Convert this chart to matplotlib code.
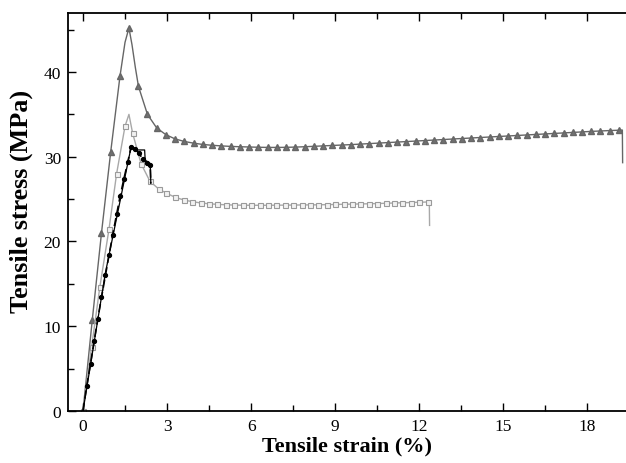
import matplotlib
matplotlib.use("Agg")
import matplotlib.pyplot as plt
from matplotlib.ticker import MultipleLocator

plt.rcParams['font.family'] = ['Liberation Serif', 'DejaVu Serif']

# Series A: triangles (highest curve)
a_x = [0, 0.33, 0.66, 0.99, 1.32, 1.50, 1.64, 1.75, 1.87, 1.98, 2.30, 2.63, 2.96, 3.29, 3.62, 3.95,
       4.28, 4.61, 4.94, 5.27, 5.60, 5.93, 6.26, 6.59, 6.92, 7.25, 7.58, 7.91, 8.24, 8.57, 8.90,
       9.23, 9.56, 9.89, 10.22, 10.55, 10.88, 11.21, 11.54, 11.87, 12.20, 12.53, 12.86, 13.19,
       13.52, 13.85, 14.18, 14.51, 14.84, 15.17, 15.50, 15.83, 16.16, 16.49, 16.82, 17.15, 17.48,
       17.81, 18.14, 18.47, 18.80, 19.13, 19.25, 19.26]
a_y = [0, 10.7, 21.0, 30.6, 39.5, 43.5, 45.2, 43.2, 40.5, 38.3, 35.0, 33.4, 32.6, 32.1, 31.8, 31.6,
       31.45, 31.35, 31.28, 31.22, 31.18, 31.15, 31.12, 31.10, 31.10, 31.11, 31.14, 31.18, 31.23,
       31.28, 31.33, 31.38, 31.43, 31.49, 31.55, 31.61, 31.67, 31.73, 31.79, 31.85, 31.91, 31.97,
       32.03, 32.09, 32.15, 32.21, 32.27, 32.33, 32.39, 32.45, 32.51, 32.57, 32.63, 32.69, 32.75,
       32.81, 32.87, 32.93, 32.99, 33.04, 33.09, 33.13, 33.15, 29.3]
a_mark = [i for i in range(len(a_x)) if i not in (5, 7, 8, len(a_x) - 2, len(a_x) - 1)]

# Series B: open squares
b_x = [0, 0.31, 0.60, 0.93, 1.20, 1.50, 1.64, 1.77, 2.07, 2.39, 2.70, 2.98, 3.30, 3.60, 3.90,
       4.20, 4.50, 4.80, 5.10, 5.40, 5.70, 6.00, 6.30, 6.60, 6.90, 7.20, 7.50, 7.80, 8.10, 8.40,
       8.70, 9.00, 9.30, 9.60, 9.90, 10.20, 10.50, 10.80, 11.10, 11.40, 11.70, 12.00, 12.30,
       12.36, 12.37]
b_y = [0, 7.6, 14.6, 21.5, 28.0, 33.6, 35.0, 32.8, 29.2, 27.1, 26.2, 25.7, 25.2, 24.9, 24.7,
       24.55, 24.45, 24.38, 24.33, 24.30, 24.28, 24.27, 24.27, 24.27, 24.28, 24.29, 24.30, 24.31,
       24.32, 24.33, 24.35, 24.37, 24.39, 24.41, 24.43, 24.45, 24.48, 24.51, 24.54, 24.57, 24.60,
       24.63, 24.66, 24.70, 21.9]
b_mark = [i for i in range(len(b_x)) if i not in (6, len(b_x) - 2, len(b_x) - 1)]

# Series C: black dashed with filled circles
c_x = [0, 0.13, 0.27, 0.40, 0.53, 0.66, 0.80, 0.93, 1.06, 1.20, 1.33, 1.46, 1.60, 1.72,
       1.86, 2.00, 2.14, 2.28, 2.40, 2.42]
c_y = [0, 2.9, 5.6, 8.3, 10.9, 13.4, 16.0, 18.4, 20.8, 23.2, 25.4, 27.4, 29.4, 31.2,
       30.9, 30.4, 29.7, 29.3, 29.0, 26.8]
c_mark = list(range(1, len(c_x) - 1))

# Series D: black solid thin
d_x = [0, 0.80, 1.72, 1.95, 2.20, 2.22, 2.40, 2.42]
d_y = [0, 16.3, 31.2, 30.8, 30.8, 29.6, 29.2, 27.0]

fig = plt.figure(figsize=(6.26, 4.64), dpi=100)
ax = fig.add_axes([68 / 626, 52 / 464, (640 - 68) / 626, 398 / 464])

ax.plot(a_x, a_y, color='#666666', lw=1.0, marker='^', markersize=4,
        markerfacecolor='#707070', markeredgecolor='#666666', markevery=a_mark)
ax.plot(b_x, b_y, color='#a8a8a8', lw=1.0, marker='s', markersize=3.6,
        markerfacecolor='#f2f2f2', markeredgecolor='#9a9a9a', markeredgewidth=0.8,
        markevery=b_mark)
ax.plot(d_x, d_y, color='black', lw=0.9)
ax.plot(c_x, c_y, color='black', lw=1.2, ls=(0, (5, 2.5)), marker='o', markersize=2.8,
        markerfacecolor='black', markeredgecolor='black', markevery=c_mark)

ax.set_xlim(-0.535, 19.88)
ax.set_ylim(0, 46.96)

ax.xaxis.set_major_locator(MultipleLocator(3))
ax.xaxis.set_minor_locator(MultipleLocator(1.5))
ax.yaxis.set_major_locator(MultipleLocator(10))
ax.yaxis.set_minor_locator(MultipleLocator(5))

ax.tick_params(which='both', direction='in', top=True, right=False, width=1.0,
               labelsize=12.5, pad=5)
ax.tick_params(which='major', length=6)
ax.tick_params(which='minor', length=4)
for s in ax.spines.values():
    s.set_linewidth(1.3)

ax.set_xlabel('Tensile strain (%)', fontsize=16, fontweight='bold')
ax.set_ylabel('Tensile stress (MPa)', fontsize=18.8, fontweight='bold')
ax.xaxis.set_label_coords(0.488, -0.062)
ax.yaxis.set_label_coords(-0.062, 0.53)

fig.savefig('out.png', dpi=100)
